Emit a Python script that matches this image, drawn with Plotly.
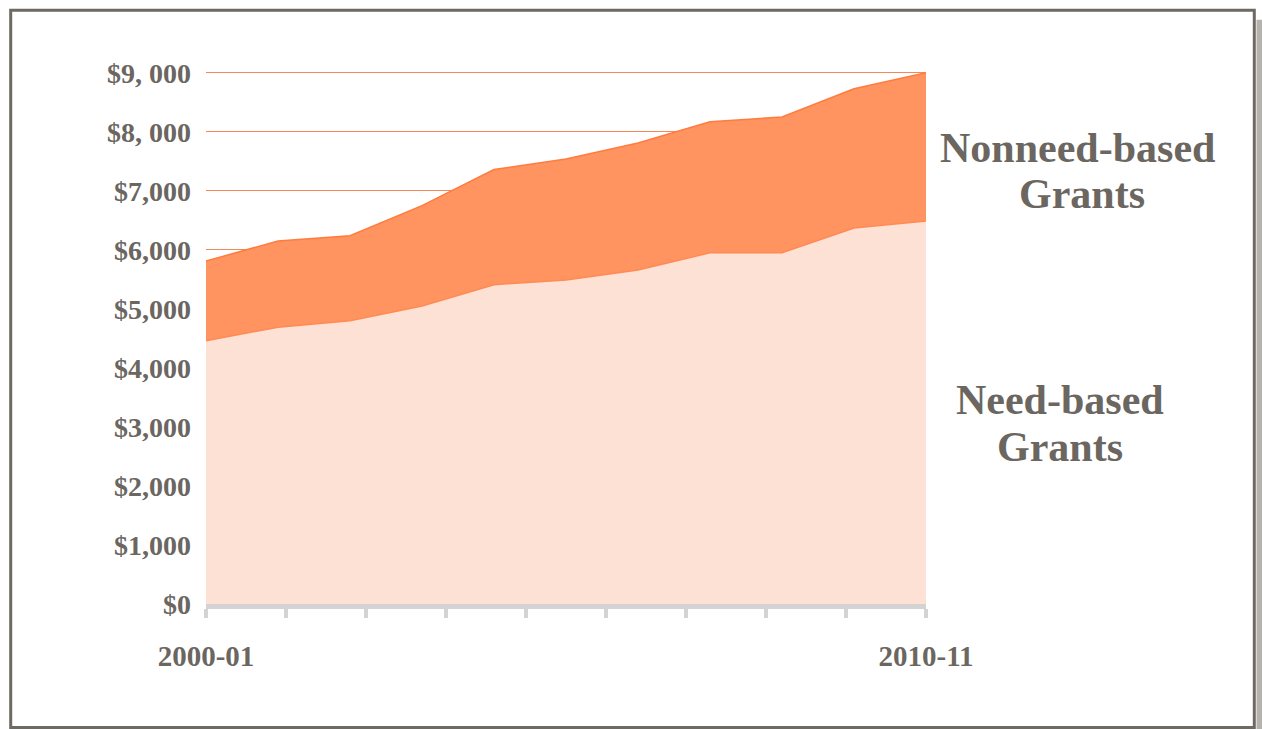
import plotly.graph_objects as go

# ---- data ----
years = ["2000-01", "2001-02", "2002-03", "2003-04", "2004-05", "2005-06",
         "2006-07", "2007-08", "2008-09", "2009-10", "2010-11"]
need_based = [4460, 4690, 4800, 5050, 5410, 5490, 5660, 5950, 5950, 6370, 6490]
nonneed_based = [1350, 1460, 1440, 1700, 1950, 2050, 2150, 2220, 2300, 2360, 2510]
y_tick_vals = [0, 1000, 2000, 3000, 4000, 5000, 6000, 7000, 8000, 9000]
y_tick_text = ["$0", "$1,000", "$2,000", "$3,000", "$4,000", "$5,000",
               "$6,000", "$7,000", "$8, 000", "$9, 000"]

# ---- layout geometry (page pixels) ----
W, H = 1262, 729
Y_TOP = 9030                      # small headroom so the $9,000 gridline is drawn
L, R, B = 206, 926, 604
T = B - (B - 73) * Y_TOP / 9000   # keeps 9000 at page y=73
def px(x):
    return (x - L) / (R - L)
def py(y):
    return (B - y) / (B - T)

TEXT = "#6b665f"
FONT = "Liberation Serif"
xi = list(range(len(years)))
n = len(years) - 1
tick_marks = [i * n / 9 for i in range(10)]

fig = go.Figure()
fig.add_trace(go.Scatter(
    x=xi, y=need_based, mode="lines", stackgroup="g", name="Need-based Grants",
    line=dict(color="#FF8A52", width=1.5), fillcolor="#FDE1D5", hoverinfo="x+y"))
fig.add_trace(go.Scatter(
    x=xi, y=nonneed_based, mode="lines", stackgroup="g", name="Nonneed-based Grants",
    line=dict(color="#FF7B3E", width=1.5), fillcolor="#FF9461", hoverinfo="x+y"))
fig.add_trace(go.Scatter(x=[0, n], y=[None, None], xaxis="x2",
                         showlegend=False, hoverinfo="skip"))

fig.update_layout(
    width=W, height=H,
    margin=dict(l=L, r=W - R, t=T, b=H - B, pad=0),
    paper_bgcolor="white", plot_bgcolor="white",
    showlegend=False,
    font=dict(family=FONT, color=TEXT),
    xaxis=dict(range=[0, n], showgrid=False, zeroline=False,
               showline=True, linecolor="#d3d3d3", linewidth=5,
               ticks="outside", ticklen=9, tickwidth=4, tickcolor="#d3d3d3",
               tickvals=tick_marks, showticklabels=False),
    xaxis2=dict(range=[0, n], overlaying="x", side="bottom", showgrid=False,
                zeroline=False, showline=False, ticks="",
                tickvals=[0, n], ticktext=[years[0], years[-1]],
                tickfont=dict(family=FONT, size=29, color=TEXT, weight="bold"),
                ticklabelstandoff=32),
    yaxis=dict(range=[0, Y_TOP], tickvals=y_tick_vals, ticktext=y_tick_text,
               showgrid=True, gridcolor="#F5875A", gridwidth=1,
               zeroline=False, showline=False, ticks="",
               tickfont=dict(family=FONT, size=28, color=TEXT, weight="bold"),
               ticklabelstandoff=14),
)

# ---- annotations ----
ann_font = dict(family=FONT, size=42, color=TEXT, weight="bold")
for text, x, y in [("Nonneed-based", 1077, 148), ("Grants", 1082, 194),
                   ("Need-based", 1060, 400), ("Grants", 1060, 447)]:
    fig.add_annotation(text=text, xref="paper", yref="paper", x=px(x), y=py(y),
                       xanchor="center", yanchor="middle", showarrow=False,
                       font=ann_font)

# ---- frame and shadow ----
fig.add_shape(type="rect", xref="paper", yref="paper", layer="below",
              x0=px(10.7), x1=px(1254.3), y0=py(10.5), y1=py(727.5),
              fillcolor="white", line=dict(color="#6e6a63", width=3))
fig.add_shape(type="rect", xref="paper", yref="paper", layer="above",
              x0=px(1256.5), x1=px(1263), y0=py(20), y1=py(730),
              fillcolor="#b5b3ae", line=dict(width=0))

fig.write_html("out.html",
               config={"displayModeBar": False},
               post_script="document.body.style.margin='0';"
                           "document.body.style.overflow='hidden';")
